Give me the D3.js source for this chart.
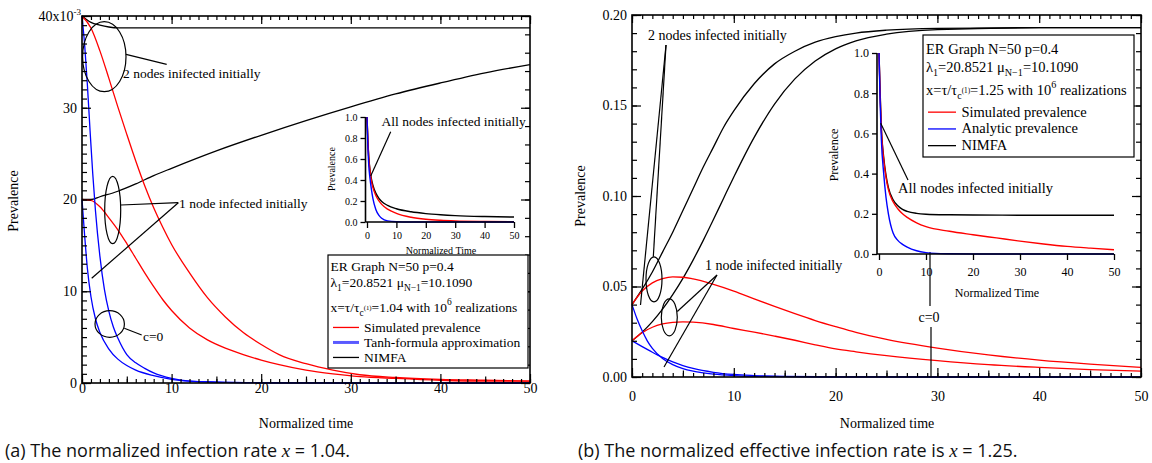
<!DOCTYPE html>
<html>
<head>
<meta charset="utf-8">
<script src="https://cdn.jsdelivr.net/npm/d3@7"></script>
<style>
  body { margin: 0; background: #fff; }
  svg { display: block; }
</style>
</head>
<body>
<svg id="chart" width="1152" height="463"></svg>
<script>
// ---------- tick labels ----------
const xTickVals = [0, 10, 20, 30, 40, 50];
const xTickLabels = ["0", "10", "20", "30", "40", "50"];
const yTickValsA = [0, 0.01, 0.02, 0.03, 0.04];
const yTickLabelsA = ["0", "10", "20", "30", "40x10"];
const yTickValsB = [0, 0.05, 0.10, 0.15, 0.20];
const yTickLabelsB = ["0.00", "0.05", "0.10", "0.15", "0.20"];
const insetYVals = [0, 0.2, 0.4, 0.6, 0.8, 1.0];
const insetYLabels = ["0.0", "0.2", "0.4", "0.6", "0.8", "1.0"];

// ---------- (a) x = 1.04 : [normalized time, prevalence] ----------
const simA2 = [[0,0.0400],[1,0.0387],[2,0.0362],[3,0.0332],[4,0.0301],[5,0.0271],[6,0.0242],[7,0.0215],[8,0.0191],[9,0.0170],[10,0.0151],[12,0.0120],[14,0.0093],[16,0.0072],[18,0.0055],[20,0.0042],[22,0.0031],[25,0.0021],[28,0.0014],[31,0.0009],[35,0.0006],[40,0.0004],[45,0.0003],[50,0.0002]];
const simA1 = [[0,0.0200],[1,0.0199],[2,0.0192],[3,0.0180],[4,0.0167],[5,0.0152],[6,0.0136],[7,0.0120],[8,0.0105],[9,0.0091],[10,0.0079],[12,0.0060],[14,0.0047],[16,0.0038],[18,0.0031],[20,0.0025],[22,0.0020],[25,0.0014],[28,0.0010],[31,0.0007],[35,0.0005],[40,0.0003],[45,0.0002],[50,0.0002]];
const tanhA2 = [[0,0.0400],[0.3,0.0368],[0.6,0.0325],[0.9,0.0275],[1.2,0.0228],[1.5,0.0188],[2,0.0138],[2.5,0.0102],[3,0.0078],[3.5,0.0061],[4,0.0049],[5,0.0031],[6,0.0022],[7,0.0016],[8,0.0011],[10,0.0005],[12,0.0002],[15,0.0001],[20,0.00003],[30,0],[50,0]];
const tanhA1 = [[0,0.0200],[0.3,0.0160],[0.6,0.0125],[1,0.0094],[1.5,0.0070],[2,0.0055],[3,0.0037],[4,0.0026],[5,0.0019],[6,0.0014],[8,0.0008],[10,0.0004],[12,0.0002],[15,0.0001],[20,0.00003],[30,0],[50,0]];
const nimfaA2 = [[0,0.0400],[1,0.0393],[2,0.0390],[3,0.0388],[4,0.0387],[10,0.0387],[20,0.0387],[30,0.0387],[40,0.0387],[50,0.0387]];
const nimfaA1 = [[0,0.0200],[1,0.0200],[2,0.0203],[4,0.0209],[6,0.0217],[8,0.0226],[10,0.0234],[15,0.0253],[20,0.0270],[25,0.0286],[30,0.0301],[35,0.0315],[40,0.0327],[45,0.0338],[50,0.0347]];
// inset (a): all nodes infected initially
const nimfaIA = [[0,1],[0.3,0.78],[0.6,0.62],[1,0.50],[1.5,0.41],[2,0.35],[3,0.275],[4,0.228],[5,0.196],[7,0.158],[10,0.126],[15,0.097],[20,0.080],[25,0.069],[30,0.061],[40,0.052],[50,0.047]];
const simIA = [[0,1],[0.3,0.77],[0.6,0.61],[1,0.49],[1.5,0.39],[2,0.33],[3,0.252],[4,0.203],[5,0.168],[7,0.122],[10,0.082],[15,0.045],[20,0.026],[25,0.016],[30,0.010],[40,0.005],[50,0.003]];
const tanhIA = [[0,1],[0.3,0.72],[0.6,0.54],[1,0.42],[1.5,0.31],[2,0.225],[3,0.12],[4,0.065],[5,0.035],[7,0.011],[10,0.003],[15,0.0005],[20,0],[50,0]];

// ---------- (b) x = 1.25 ----------
const simB2 = [[0,0.0400],[1,0.0475],[2,0.0520],[3,0.0543],[4,0.0553],[5,0.0551],[6,0.0542],[8,0.0512],[10,0.0475],[12,0.0432],[14,0.0390],[16,0.0350],[18,0.0312],[20,0.0278],[22,0.0246],[25,0.0208],[30,0.0160],[35,0.0122],[40,0.0093],[45,0.0071],[50,0.0053]];
const simB1 = [[0,0.0200],[1,0.0245],[2,0.0275],[3,0.0293],[4,0.0302],[5,0.0305],[6,0.0303],[8,0.0290],[10,0.0268],[12,0.0248],[14,0.0226],[16,0.0203],[18,0.0178],[20,0.0155],[22,0.0139],[25,0.0118],[30,0.0090],[35,0.0068],[40,0.0053],[45,0.0041],[50,0.0033]];
const anaB2 = [[0,0.0400],[0.5,0.0320],[1,0.0255],[1.5,0.0200],[2,0.0158],[3,0.0102],[4,0.0068],[5,0.0046],[6,0.0032],[8,0.0016],[10,0.0008],[12,0.0004],[15,0.0002],[20,0.0001],[30,0],[50,0]];
const anaB1 = [[0,0.0200],[1,0.0168],[2,0.0137],[3,0.0108],[4,0.0083],[5,0.0063],[6,0.0047],[8,0.0026],[10,0.0014],[12,0.0008],[15,0.0003],[20,0.0001],[30,0],[50,0]];
const nimfaB2 = [[0,0.040],[1,0.0485],[2,0.058],[3,0.069],[4,0.080],[5,0.092],[6,0.104],[7,0.116],[8,0.127],[9,0.138],[10,0.147],[12,0.162],[14,0.173],[16,0.180],[18,0.185],[20,0.188],[22,0.190],[25,0.1916],[30,0.1926],[40,0.193],[50,0.193]];
const nimfaB1 = [[0,0.020],[1,0.0248],[2,0.0306],[3,0.0375],[4,0.0455],[5,0.0545],[6,0.0646],[7,0.0755],[8,0.087],[9,0.0988],[10,0.1105],[12,0.1324],[14,0.1508],[16,0.1647],[18,0.1746],[20,0.1813],[22,0.1857],[25,0.1894],[30,0.1919],[40,0.193],[50,0.193]];
// inset (b): all nodes infected initially
const nimfaIB = [[0,1],[0.25,0.80],[0.5,0.63],[1,0.48],[1.5,0.39],[2,0.33],[3,0.27],[4,0.24],[5,0.222],[6,0.212],[8,0.202],[10,0.198],[15,0.195],[20,0.194],[30,0.193],[50,0.193]];
const simIB = [[0,1],[0.25,0.78],[0.5,0.62],[1,0.47],[1.5,0.38],[2,0.32],[3,0.26],[4,0.225],[5,0.200],[6,0.182],[8,0.155],[10,0.136],[15,0.113],[20,0.096],[25,0.080],[30,0.064],[35,0.050],[40,0.038],[45,0.029],[50,0.021]];
const anaIB = [[0,1],[0.25,0.75],[0.5,0.57],[1,0.40],[1.5,0.28],[2,0.20],[3,0.104],[4,0.068],[5,0.048],[6,0.034],[8,0.016],[10,0.007],[12,0.003],[15,0.001],[20,0],[50,0]];

// ---------- drawing ----------
const svg = d3.select("#chart");
const SERIF = '"Liberation Serif","Times New Roman",serif';
const RED = "#ff0000", BLUE = "#0000ff", BLACK = "#000000";

function curve(g, x, y, data, color, w) {
  g.append("path").datum(data)
    .attr("fill", "none").attr("stroke", color).attr("stroke-width", w || 1.3)
    .attr("stroke-linejoin", "round")
    .attr("d", d3.line().x(d => x(d[0])).y(d => y(d[1])).curve(d3.curveMonotoneX));
}

function tickSet(g, axisFn, scale, vals, len, tx, ty) {
  g.append("g").attr("transform", `translate(${tx},${ty})`)
    .call(axisFn(scale).tickValues(vals).tickSize(-len).tickFormat(""))
    .call(s => s.select(".domain").remove())
    .call(s => s.selectAll("line").attr("stroke", BLACK).attr("stroke-width", 1.2));
}

function framedAxes(x, y, yMinor, yMajor, yRightMinor) {
  const g = svg.append("g");
  const [xl, xr] = x.range(), [yb, yt] = y.range();
  const xMinor = d3.range(0, 51, 1), xMid = d3.range(5, 50, 10);
  // bottom & top
  tickSet(g, d3.axisBottom, x, xMinor, 4, 0, yb);
  tickSet(g, d3.axisBottom, x, xMid, 6.5, 0, yb);
  tickSet(g, d3.axisBottom, x, xTickVals, 9, 0, yb);
  tickSet(g, d3.axisTop, x, xMinor, 4, 0, yt);
  tickSet(g, d3.axisTop, x, xTickVals, 8, 0, yt);
  // left & right
  tickSet(g, d3.axisLeft, y, yMinor, 5, xl, 0);
  tickSet(g, d3.axisLeft, y, yMajor, 9, xl, 0);
  tickSet(g, d3.axisRight, y, yRightMinor, 5, xr, 0);
  tickSet(g, d3.axisRight, y, yMajor, 9, xr, 0);
  g.append("rect").attr("x", xl).attr("y", yt).attr("width", xr - xl).attr("height", yb - yt)
    .attr("fill", "none").attr("stroke", BLACK).attr("stroke-width", 1.6);
  return g;
}

function tickLabels(x, y, yVals, yLabels, fs, xBase, yPad) {
  const g = svg.append("g").attr("font-family", SERIF).attr("font-size", fs);
  const [xl] = x.range(), [yb] = y.range();
  g.append("g").attr("transform", `translate(0,${yb})`)
    .call(d3.axisBottom(x).tickValues(xTickVals).tickSize(0).tickFormat((d, i) => xTickLabels[i]))
    .call(s => s.select(".domain").remove())
    .call(s => s.selectAll("text").attr("dy", null).attr("y", xBase).attr("fill", BLACK)
      .attr("font-family", SERIF).attr("font-size", fs));
  g.append("g").attr("transform", `translate(${xl},0)`)
    .call(d3.axisLeft(y).tickValues(yVals).tickSize(0).tickPadding(yPad).tickFormat((d, i) => yLabels[i]))
    .call(s => s.select(".domain").remove())
    .call(s => s.selectAll("text").attr("fill", BLACK).attr("font-family", SERIF).attr("font-size", fs));
  return g;
}

function insetAxes(x, y, axisX, fs, labPad) {
  const g = svg.append("g");
  const [yb, yt] = y.range();
  g.append("g").attr("transform", `translate(0,${yb})`)
    .call(d3.axisBottom(x).tickValues(xTickVals).tickSize(6).tickPadding(labPad)
      .tickFormat((d, i) => xTickLabels[i]))
    .call(s => s.select(".domain").attr("d", `M${axisX},0H${x.range()[1]}`).attr("stroke-width", 1.6))
    .call(s => s.selectAll("line").attr("stroke-width", 1.3))
    .call(s => s.selectAll("text").attr("font-family", SERIF).attr("font-size", fs).attr("fill", BLACK));
  g.append("g").attr("transform", `translate(${axisX},0)`)
    .call(d3.axisLeft(y).tickValues(insetYVals).tickSize(5).tickPadding(3)
      .tickFormat((d, i) => insetYLabels[i]))
    .call(s => s.select(".domain").attr("d", `M0,${yb}V${yt}`).attr("stroke-width", 1.6))
    .call(s => s.selectAll("line").attr("stroke-width", 1.3))
    .call(s => s.selectAll("text").attr("font-family", SERIF).attr("font-size", fs).attr("fill", BLACK));
  return g;
}

function label(txt, x, y, fs, anchor) {
  return svg.append("text").attr("x", x).attr("y", y).attr("font-family", SERIF)
    .attr("font-size", fs).attr("text-anchor", anchor || "start").attr("fill", BLACK).text(txt);
}

function vlabel(txt, x, y, fs) {
  return svg.append("text").attr("transform", `translate(${x},${y}) rotate(-90)`)
    .attr("font-family", SERIF).attr("font-size", fs).attr("text-anchor", "middle")
    .attr("fill", BLACK).text(txt);
}

// rich text with sub/superscripts: segments of [string, "n" | "sub" | "sup" | "tiny"]
function rich(x, y, fs, segs) {
  const t = svg.append("text").attr("x", x).attr("y", y).attr("font-family", SERIF)
    .attr("font-size", fs).attr("fill", BLACK);
  let cur = 0;
  segs.forEach(([s, m]) => {
    const off = m === "sub" ? fs * 0.3 : m === "sup" ? -fs * 0.45 : m === "tiny" ? -fs * 0.12 : 0;
    const size = m === "n" ? fs : m === "tiny" ? fs * 0.5 : fs * 0.7;
    t.append("tspan").attr("dy", off - cur).attr("font-size", size).text(s);
    cur = off;
  });
  return t;
}

function seg(x1, y1, x2, y2) {
  svg.append("line").attr("x1", x1).attr("y1", y1).attr("x2", x2).attr("y2", y2)
    .attr("stroke", BLACK).attr("stroke-width", 1.2);
}
function ell(cx, cy, rx, ry) {
  svg.append("ellipse").attr("cx", cx).attr("cy", cy).attr("rx", rx).attr("ry", ry)
    .attr("fill", "none").attr("stroke", BLACK).attr("stroke-width", 1.2);
}

function legend(x, y, w, h, fs, rows, textX, lineX0, lineX1, rowY) {
  svg.append("rect").attr("x", x).attr("y", y).attr("width", w).attr("height", h)
    .attr("fill", "#fff").attr("stroke", BLACK).attr("stroke-width", 1.2);
  rows.forEach((r, i) => {
    svg.append("line").attr("x1", lineX0).attr("x2", lineX1)
      .attr("y1", rowY[i] - fs * 0.3).attr("y2", rowY[i] - fs * 0.3)
      .attr("stroke", r.color).attr("stroke-width", r.w);
    label(r.name, textX, rowY[i], fs);
  });
}

// ===== Panel (a) =====
const xA = d3.scaleLinear().domain([0, 50]).range([82, 530]);
const yA = d3.scaleLinear().domain([0, 0.04]).range([383, 16]);
const gA = svg.append("g");
curve(gA, xA, yA, nimfaA2, BLACK);
curve(gA, xA, yA, nimfaA1, BLACK);
curve(gA, xA, yA, simA2, RED);
curve(gA, xA, yA, simA1, RED);
curve(gA, xA, yA, tanhA2, BLUE);
curve(gA, xA, yA, tanhA1, BLUE);
framedAxes(xA, yA, d3.range(0, 0.0405, 0.001), yTickValsA, d3.range(0, 0.0405, 0.002));
const labA = tickLabels(xA, yA, yTickValsA, yTickLabelsA, 14, 10, 5);
// exponent on the top y label
labA.selectAll("text").filter((d, i, n) => d3.select(n[i]).text() === "40x10")
  .attr("x", -1)
  .append("tspan").attr("dy", -6).attr("font-size", 9).text("-3");
label("Normalized time", 306, 428, 14, "middle");
vlabel("Prevalence", 18, 201, 14);

// annotations (a)
ell(104.3, 56.7, 21.7, 35);
seg(126, 54.3, 166.7, 64.3);
label("2 nodes inifected initially", 123, 78, 13.5);
ell(112.7, 210, 8, 33.7);
seg(121, 205, 178.3, 202.7);
seg(178.3, 202.7, 91.7, 278.3);
label("1 node infected initially", 179, 207.5, 13.5);
ell(109.7, 324, 14.7, 13.3);
seg(124.3, 328.3, 141.7, 335);
label("c=0", 143, 341, 13.5);

// inset (a)
const xIA = d3.scaleLinear().domain([0, 50]).range([367, 514]);
const yIA = d3.scaleLinear().domain([0, 1]).range([222, 117]);
const gIA = svg.append("g");
curve(gIA, xIA, yIA, nimfaIA, BLACK, 1.4);
curve(gIA, xIA, yIA, simIA, RED, 1.4);
curve(gIA, xIA, yIA, tanhIA, BLUE, 1.4);
insetAxes(xIA, yIA, 365.5, 10, 4);
label("Normalized Time", 441, 254, 10, "middle");
vlabel("Prevalence", 335, 169, 10);
label("All nodes infected initially", 381.5, 126, 13.5);
seg(390.7, 131.7, 370.7, 176);

// legend (a)
legend(328, 255, 200, 113, 13.5, [
  { name: "Simulated prevalence", color: RED, w: 1.3 },
  { name: "Tanh-formula approximation", color: "#5a5aff", w: 3 },
  { name: "NIMFA", color: BLACK, w: 1.3 }
], 364, 333, 359, [331.5, 346.5, 361.5]);
label("ER Graph N=50 p=0.4", 330.5, 270.5, 13.5);
rich(330.5, 286.5, 13.5, [["λ", "n"], ["1", "sub"], ["=20.8521 μ", "n"], ["N−1", "sub"], ["=10.1090", "n"]]);
rich(330.5, 311.5, 13.5, [["x=τ/τ", "n"], ["c", "sub"], ["(1)", "tiny"], ["=1.04 with 10", "n"], ["6", "sup"], [" realizations", "n"]]);

// ===== Panel (b) =====
const xB = d3.scaleLinear().domain([0, 50]).range([632, 1141]);
const yB = d3.scaleLinear().domain([0, 0.2]).range([377, 15]);
const gB = svg.append("g");
curve(gB, xB, yB, nimfaB2, BLACK);
curve(gB, xB, yB, nimfaB1, BLACK);
curve(gB, xB, yB, simB2, RED);
curve(gB, xB, yB, simB1, RED);
curve(gB, xB, yB, anaB2, BLUE);
curve(gB, xB, yB, anaB1, BLUE);
framedAxes(xB, yB, d3.range(0, 0.2001, 0.01), yTickValsB, d3.range(0, 0.2001, 0.01));
tickLabels(xB, yB, yTickValsB, yTickLabelsB, 14, 24, 5);
label("Normalized time", 887, 428, 14, "middle");
vlabel("Prevalence", 585, 196, 14);

// annotations (b)
label("2 nodes infected initially", 648, 40, 14);
seg(666, 45, 653.3, 256.8);
seg(666, 45, 640.5, 305);
ell(654, 279.3, 8, 22.5);
label("1 node inifected initially", 705, 270, 14);
ell(669.3, 317.3, 8, 18.5);
seg(717, 275, 677.3, 311.5);
seg(717, 275, 664, 367);
seg(930, 252, 930, 306);
label("c=0", 929, 322, 14, "middle");
seg(931, 327, 931, 377);

// inset (b)
const xIB = d3.scaleLinear().domain([0, 50]).range([879, 1114]);
const yIB = d3.scaleLinear().domain([0, 1]).range([254, 53]);
const gIB = svg.append("g");
curve(gIB, xIB, yIB, nimfaIB, BLACK, 1.4);
curve(gIB, xIB, yIB, simIB, RED, 1.4);
curve(gIB, xIB, yIB, anaIB, BLUE, 1.4);
insetAxes(xIB, yIB, 877, 12, 7);
label("Normalized Time", 997, 297, 12, "middle");
vlabel("Prevalence", 838, 155, 12);
label("All nodes infected initially", 898, 193, 14.5);
seg(908, 180, 880.7, 123.3);

// legend (b)
legend(923, 35, 211, 122, 14.5, [
  { name: "Simulated prevalence", color: RED, w: 1.3 },
  { name: "Analytic prevalence", color: BLUE, w: 1.3 },
  { name: "NIMFA", color: BLACK, w: 1.3 }
], 961.5, 928, 956, [116.5, 133.3, 150]);
label("ER Graph N=50 p=0.4", 926, 53.5, 14.5);
rich(926, 71.5, 14.5, [["λ", "n"], ["1", "sub"], ["=20.8521 μ", "n"], ["N−1", "sub"], ["=10.1090", "n"]]);
rich(926, 95, 14.5, [["x=τ/τ", "n"], ["c", "sub"], ["(1)", "tiny"], ["=1.25 with 10", "n"], ["6", "sup"], [" realizations", "n"]]);

// ===== captions =====
const CAP = '"Open Sans","Noto Sans",sans-serif';
const capA = svg.append("text").attr("x", 5).attr("y", 457).attr("font-family", CAP).attr("font-size", 18).attr("fill", "#111");
capA.append("tspan").text("(a) The normalized infection rate ");
capA.append("tspan").attr("font-family", SERIF).attr("font-style", "italic").attr("font-size", 19).text("x");
capA.append("tspan").text(" = 1.04.");
const capB = svg.append("text").attr("x", 578).attr("y", 457).attr("font-family", CAP).attr("font-size", 18).attr("fill", "#111");
capB.append("tspan").text("(b) The normalized effective infection rate is ");
capB.append("tspan").attr("font-family", SERIF).attr("font-style", "italic").attr("font-size", 19).text("x");
capB.append("tspan").text(" = 1.25.");
</script>
</body>
</html>
